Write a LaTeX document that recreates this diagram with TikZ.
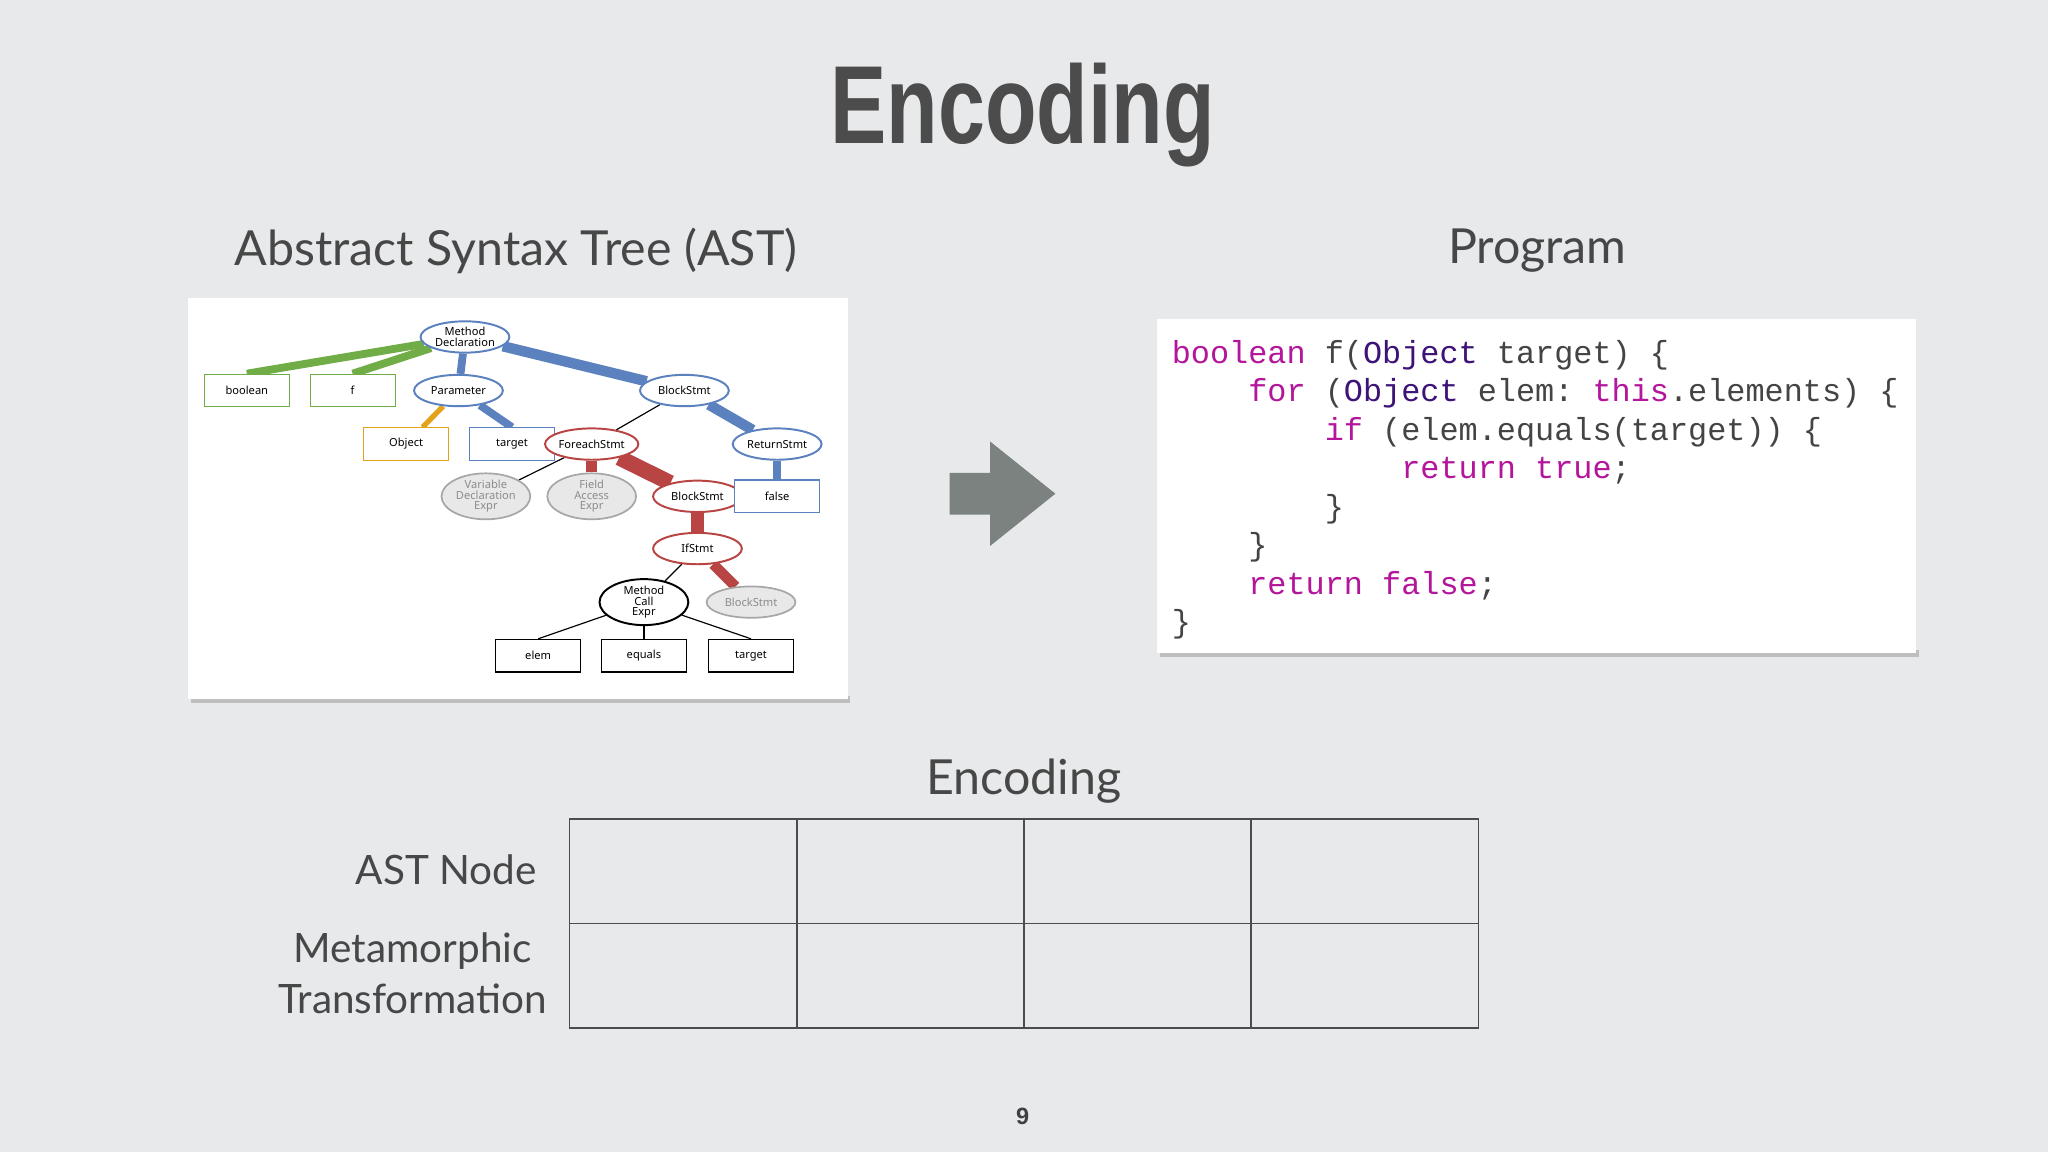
\documentclass[tikz,border=0pt]{standalone}
\usepackage{fontspec}
\setmainfont{Lato}
\setmonofont{Liberation Mono}
\newfontfamily\titlefont{Liberation Sans}
\newfontfamily\treefont{Noto Sans}
\usetikzlibrary{shapes.geometric}
\pgfdeclarelayer{bg}\pgfdeclarelayer{edges}
\pgfsetlayers{bg,edges,main}
\definecolor{bgc}{HTML}{E7E9EB}
\definecolor{tg}{HTML}{70AD47}
\definecolor{tb}{HTML}{5B82BF}
\definecolor{to}{HTML}{E3A21A}
\definecolor{tr}{HTML}{B94444}
\definecolor{kw}{HTML}{B4169B}
\definecolor{ty}{HTML}{3D1378}
\definecolor{tx}{HTML}{444444}
\definecolor{arr}{HTML}{7B8280}
\begin{document}
\begin{tikzpicture}[x=1pt,y=-1pt,
  ell/.style={ellipse,draw,line width=1.5pt,fill=white,minimum width=68pt,minimum height=24pt,inner sep=0pt,font=\treefont\fontsize{8.5}{8.2}\selectfont,align=center},
  gell/.style={ell,draw=gray!70,fill=gray!18,text=gray!90,line width=1.3pt},
  bx/.style={rectangle,draw,line width=0.8pt,fill=white,minimum width=65pt,minimum height=25pt,inner sep=0pt,font=\treefont\fontsize{8.5}{8}\selectfont},
  cl/.style={anchor=base west,inner sep=0pt,font=\ttfamily\fontsize{24.4}{24}\selectfont,text=tx},
  hd/.style={font=\fontsize{37}{37}\selectfont,text=black!72,inner sep=0pt},
  lb/.style={font=\fontsize{31}{39}\selectfont,text=black!72,inner sep=0pt,align=center}]
\begin{pgfonlayer}{bg}
\fill[bgc] (0,0) rectangle (1568,882);
\fill[black!25] (146,533) rectangle (651,538);
\fill[white] (144,228) rectangle (649,535);
\fill[black!25] (888,498) rectangle (1469,503);
\fill[white] (886,244) rectangle (1467,500);
\end{pgfonlayer}
\node[inner sep=0pt,text=black!70] (title) at (783,88) {\titlefont\bfseries\fontsize{85}{85}\selectfont\scalebox{0.76}[1]{Encoding}};
\node[hd] (asth) at (395,192) {Abstract Syntax Tree (AST)};
\node[hd] (progh) at (1177,192) {Program};
% tree
\node[ell,draw=tb] (md) at (356,258) {Method\\Declaration};
\node[bx,draw=tg] (bool) at (189,299) {boolean};
\node[bx,draw=tg] (f) at (270,299) {f};
\node[ell,draw=tb] (par) at (351,299) {Parameter};
\node[ell,draw=tb] (bs) at (524,299) {BlockStmt};
\node[bx,draw=to] (obj) at (311,340) {Object};
\node[bx,draw=tb] (tgt) at (392,340) {target};
\node[ell,draw=tr] (fe) at (453,340) {ForeachStmt};
\node[ell,draw=tb] (rs) at (595,340) {ReturnStmt};
\node[gell] (vd) at (372,380) {Variable\\Declaration\\Expr};
\node[gell] (fa) at (453,380) {Field\\Access\\Expr};
\node[ell,draw=tr] (bs2) at (534,380) {BlockStmt};
\node[bx,draw=tb] (fls) at (595,380) {false};
\node[ell,draw=tr] (ifs) at (534,420) {IfStmt};
\node[ell,draw=black] (mce) at (493,461) {Method\\Call\\Expr};
\node[gell] (bs3) at (575,461) {BlockStmt};
\node[bx] (elem) at (412,502) {elem};
\node[bx] (eq) at (493,502) {equals};
\node[bx] (tgt2) at (575,502) {target};
\begin{pgfonlayer}{edges}
\draw[tg,line width=6pt] (md) -- (bool.north);
\draw[tg,line width=6pt] (md) -- (f.north);
\draw[tb,line width=6pt] (md) -- (par);
\draw[tb,line width=8pt] (md) -- (bs);
\draw[to,line width=4pt] (par) -- (obj);
\draw[tb,line width=6pt] (par) -- (tgt.north);
\draw[black,line width=0.9pt] (bs) -- (fe);
\draw[tb,line width=8pt] (bs) -- (rs);
\draw[tb,line width=6pt] (rs) -- (fls);
\draw[black,line width=0.9pt] (fe) -- (vd);
\draw[tr,line width=8pt] (fe) -- (fa);
\draw[tr,line width=12pt] (fe) -- (bs2);
\draw[tr,line width=10pt] (bs2) -- (ifs);
\draw[black,line width=0.9pt] (ifs) -- (mce);
\draw[tr,line width=8pt] (ifs) -- (bs3);
\draw[black,line width=0.9pt] (mce) -- (elem.north);
\draw[black,line width=0.9pt] (mce) -- (eq.north);
\draw[black,line width=0.9pt] (mce) -- (tgt2.north);
\end{pgfonlayer}
% code
\node[cl] (c1) at (897,278) {\textcolor{kw}{boolean} f(\textcolor{ty}{Object} target) \{};
\node[cl] (c2) at (897,307.5) {\ \ \ \ \textcolor{kw}{for} (\textcolor{ty}{Object} elem: \textcolor{kw}{this}.elements) \{};
\node[cl] (c3) at (897,337) {\ \ \ \ \ \ \ \ \textcolor{kw}{if} (elem.equals(target)) \{};
\node[cl] (c4) at (897,366.5) {\ \ \ \ \ \ \ \ \ \ \ \ \textcolor{kw}{return} \textcolor{kw}{true};};
\node[cl] (c5) at (897,396) {\ \ \ \ \ \ \ \ \}};
\node[cl] (c6) at (897,425.5) {\ \ \ \ \}};
\node[cl] (c7) at (897,455) {\ \ \ \ \textcolor{kw}{return} \textcolor{kw}{false};};
\node[cl] (c8) at (897,484.5) {\}};
% arrow
\fill[arr] (727,362) -- (758,362) -- (758,338) -- (808,378) -- (758,418) -- (758,394) -- (727,394) -- cycle;
% encoding table
\node[hd] (ench) at (784,598) {Encoding};
\draw[black!70,line width=1.2pt] (436,627) rectangle (1132,787);
\draw[black!70,line width=1.2pt] (436,707) -- (1132,707);
\foreach \xx in {610,784,958} \draw[black!70,line width=1.2pt] (\xx,627) -- (\xx,787);
\node[lb,anchor=east] (astn) at (411,666) {AST Node};
\node[lb] (meta) at (316,745) {Metamorphic\\Transformation};
\node[inner sep=0pt,font=\titlefont\bfseries\fontsize{18}{18}\selectfont,text=black!75] (pg) at (783,855) {9};
\end{tikzpicture}
\end{document}
